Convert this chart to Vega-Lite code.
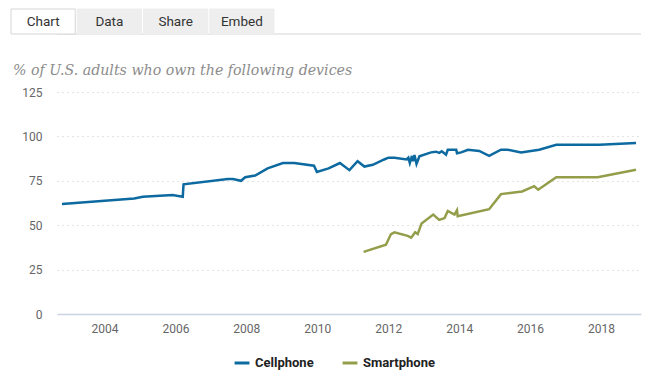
{
  "$schema": "https://vega.github.io/schema/vega-lite/v6.json",
  "background": "white",
  "padding": {"left": 10, "top": 8, "right": 0, "bottom": 0},
  "spacing": 28,
  "align": "none",
  "config": {"view": {"stroke": null}, "font": "Roboto"},
  "datasets": {
    "tabs": [{"tab": "Chart"}, {"tab": "Data"}, {"tab": "Share"}, {"tab": "Embed"}],
    "baseline": [{"base": 0}],
    "ownership": [
      {"device": "Cellphone", "date": "2002-10-20", "value": 62},
      {"device": "Cellphone", "date": "2004-11-02", "value": 65},
      {"device": "Cellphone", "date": "2005-01-30", "value": 66},
      {"device": "Cellphone", "date": "2005-12-01", "value": 67},
      {"device": "Cellphone", "date": "2006-03-17", "value": 66},
      {"device": "Cellphone", "date": "2006-03-25", "value": 73},
      {"device": "Cellphone", "date": "2007-06-25", "value": 76},
      {"device": "Cellphone", "date": "2007-08-15", "value": 76},
      {"device": "Cellphone", "date": "2007-11-07", "value": 75},
      {"device": "Cellphone", "date": "2007-12-20", "value": 77},
      {"device": "Cellphone", "date": "2008-04-01", "value": 78},
      {"device": "Cellphone", "date": "2008-08-07", "value": 82},
      {"device": "Cellphone", "date": "2009-01-12", "value": 85},
      {"device": "Cellphone", "date": "2009-05-08", "value": 85},
      {"device": "Cellphone", "date": "2009-11-28", "value": 83.5},
      {"device": "Cellphone", "date": "2009-12-28", "value": 80},
      {"device": "Cellphone", "date": "2010-04-27", "value": 82},
      {"device": "Cellphone", "date": "2010-08-22", "value": 85},
      {"device": "Cellphone", "date": "2010-11-28", "value": 81},
      {"device": "Cellphone", "date": "2011-02-20", "value": 86},
      {"device": "Cellphone", "date": "2011-05-01", "value": 83},
      {"device": "Cellphone", "date": "2011-07-27", "value": 84},
      {"device": "Cellphone", "date": "2011-11-21", "value": 87},
      {"device": "Cellphone", "date": "2012-01-04", "value": 88},
      {"device": "Cellphone", "date": "2012-03-06", "value": 88},
      {"device": "Cellphone", "date": "2012-07-09", "value": 87},
      {"device": "Cellphone", "date": "2012-07-27", "value": 88},
      {"device": "Cellphone", "date": "2012-08-11", "value": 85},
      {"device": "Cellphone", "date": "2012-09-02", "value": 89},
      {"device": "Cellphone", "date": "2012-09-13", "value": 86},
      {"device": "Cellphone", "date": "2012-09-28", "value": 89.5},
      {"device": "Cellphone", "date": "2012-10-19", "value": 84.5},
      {"device": "Cellphone", "date": "2012-11-18", "value": 88.8},
      {"device": "Cellphone", "date": "2013-03-18", "value": 91},
      {"device": "Cellphone", "date": "2013-05-08", "value": 91.4},
      {"device": "Cellphone", "date": "2013-06-10", "value": 90.7},
      {"device": "Cellphone", "date": "2013-07-06", "value": 91.6},
      {"device": "Cellphone", "date": "2013-08-19", "value": 89.7},
      {"device": "Cellphone", "date": "2013-09-06", "value": 92.5},
      {"device": "Cellphone", "date": "2013-12-02", "value": 92.5},
      {"device": "Cellphone", "date": "2013-12-10", "value": 90.5},
      {"device": "Cellphone", "date": "2014-01-22", "value": 91},
      {"device": "Cellphone", "date": "2014-04-02", "value": 92.5},
      {"device": "Cellphone", "date": "2014-07-27", "value": 91.8},
      {"device": "Cellphone", "date": "2014-11-06", "value": 89.1},
      {"device": "Cellphone", "date": "2015-03-08", "value": 92.5},
      {"device": "Cellphone", "date": "2015-05-16", "value": 92.5},
      {"device": "Cellphone", "date": "2015-10-01", "value": 91},
      {"device": "Cellphone", "date": "2016-04-05", "value": 92.5},
      {"device": "Cellphone", "date": "2016-09-28", "value": 95.3},
      {"device": "Cellphone", "date": "2017-12-17", "value": 95.3},
      {"device": "Cellphone", "date": "2018-12-28", "value": 96.3},
      {"device": "Smartphone", "date": "2011-04-23", "value": 35},
      {"device": "Smartphone", "date": "2011-12-09", "value": 39},
      {"device": "Smartphone", "date": "2012-01-30", "value": 45},
      {"device": "Smartphone", "date": "2012-03-06", "value": 46},
      {"device": "Smartphone", "date": "2012-07-20", "value": 44},
      {"device": "Smartphone", "date": "2012-08-25", "value": 43},
      {"device": "Smartphone", "date": "2012-10-05", "value": 46},
      {"device": "Smartphone", "date": "2012-10-31", "value": 45},
      {"device": "Smartphone", "date": "2012-12-10", "value": 51},
      {"device": "Smartphone", "date": "2013-04-09", "value": 56},
      {"device": "Smartphone", "date": "2013-06-10", "value": 53},
      {"device": "Smartphone", "date": "2013-08-04", "value": 54},
      {"device": "Smartphone", "date": "2013-09-06", "value": 58},
      {"device": "Smartphone", "date": "2013-11-14", "value": 56},
      {"device": "Smartphone", "date": "2013-12-10", "value": 58.5},
      {"device": "Smartphone", "date": "2013-12-17", "value": 55},
      {"device": "Smartphone", "date": "2014-11-06", "value": 59},
      {"device": "Smartphone", "date": "2015-03-08", "value": 67.5},
      {"device": "Smartphone", "date": "2015-10-12", "value": 69},
      {"device": "Smartphone", "date": "2016-02-13", "value": 72},
      {"device": "Smartphone", "date": "2016-03-25", "value": 70},
      {"device": "Smartphone", "date": "2016-09-28", "value": 77},
      {"device": "Smartphone", "date": "2017-11-28", "value": 77},
      {"device": "Smartphone", "date": "2018-12-28", "value": 81.2}
    ]
  },
  "vconcat": [
    {
      "width": 584,
      "height": 25,
      "layer": [
        {
          "data": {"name": "baseline"},
          "mark": {"type": "rule", "color": "#d6d6d6", "strokeWidth": 1},
          "encoding": {
            "y": {"field": "base", "type": "quantitative", "scale": {"domain": [0, 1]}, "axis": null}
          }
        },
        {
          "data": {"name": "tabs"},
          "mark": {"type": "rect", "strokeWidth": 1},
          "encoding": {
            "x": {"field": "tab", "type": "nominal", "sort": null, "scale": {"domain": ["Chart", "Data", "Share", "Embed"], "range": [-46, 217], "paddingInner": 0.03, "paddingOuter": 0}, "axis": null},
            "fill": {"field": "tab", "type": "nominal", "scale": {"domain": ["Chart", "Data", "Share", "Embed"], "range": ["#ffffff", "#eeeeee", "#eeeeee", "#eeeeee"]}, "legend": null},
            "stroke": {"condition": {"test": "datum.tab === 'Chart'", "value": "#d6d6d6"}, "value": "#eeeeee"}
          }
        },
        {
          "data": {"name": "tabs"},
          "mark": {"type": "text", "fontSize": 13.5, "color": "#333333", "font": "Roboto"},
          "encoding": {
            "x": {"field": "tab", "type": "nominal", "sort": null, "scale": {"domain": ["Chart", "Data", "Share", "Embed"], "range": [-46, 217], "paddingInner": 0.03, "paddingOuter": 0}, "axis": null},
            "text": {"field": "tab"}
          }
        }
      ]
    },
    {
      "width": 584,
      "height": 222,
      "data": {"name": "ownership"},
      "title": {
        "text": "% of U.S. adults who own the following devices",
        "anchor": "start",
        "frame": "group",
        "dx": -44,
        "font": "DejaVu Serif",
        "fontStyle": "italic",
        "fontWeight": "normal",
        "fontSize": 14.2,
        "color": "#8c8c8c",
        "offset": 8
      },
      "mark": {"type": "line", "strokeWidth": 2.5},
      "encoding": {
        "x": {
          "field": "date",
          "type": "temporal",
          "scale": {"padding": 5, "nice": false},
          "axis": {
            "values": [{"year": 2004}, {"year": 2006}, {"year": 2008}, {"year": 2010}, {"year": 2012}, {"year": 2014}, {"year": 2016}, {"year": 2018}],
            "format": "%Y",
            "title": null,
            "ticks": false,
            "grid": false,
            "labelPadding": 9,
            "domainColor": "#c9d3e3",
            "domainWidth": 1.5,
            "labelColor": "#666666",
            "labelFontSize": 12,
            "labelFlush": false
          }
        },
        "y": {
          "field": "value",
          "type": "quantitative",
          "scale": {"domain": [0, 125], "nice": false},
          "axis": {
            "values": [0, 25, 50, 75, 100, 125],
            "title": null,
            "ticks": false,
            "domain": false,
            "labelPadding": 15,
            "minExtent": 46,
            "gridDash": [1, 4],
            "gridColor": "#c8c8c8",
            "gridOpacity": {"condition": {"test": "datum.value === 0", "value": 0}, "value": 1},
            "labelColor": "#666666",
            "labelFontSize": 12
          }
        },
        "color": {
          "field": "device",
          "type": "nominal",
          "scale": {"domain": ["Cellphone", "Smartphone"], "range": ["#0d6aa0", "#949e4a"]},
          "legend": {
            "title": null,
            "orient": "none",
            "legendX": 176,
            "legendY": 345,
            "direction": "horizontal",
            "symbolType": "stroke",
            "symbolStrokeWidth": 3,
            "symbolSize": 220,
            "labelFontWeight": "bold",
            "labelFontSize": 13,
            "labelColor": "#222222",
            "columnPadding": 22
          }
        }
      }
    }
  ]
}
